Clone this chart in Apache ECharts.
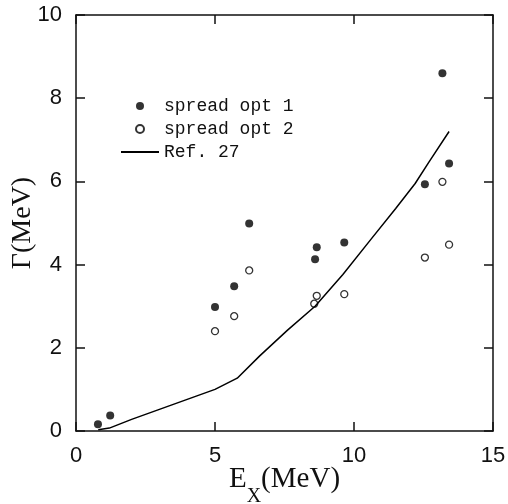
<!DOCTYPE html>
<html>
<head>
<meta charset="utf-8">
<script src="https://cdn.jsdelivr.net/npm/echarts@6/dist/echarts.min.js"></script>
<style>html,body{margin:0;padding:0;background:#fff;}#c{width:508px;height:504px;}</style>
</head>
<body>
<div id="c"></div>
<script>
const opt1X = [0.79, 1.23, 5.0, 5.69, 6.23, 8.6, 8.66, 9.65, 12.55, 13.18, 13.42];
const opt1Y = [0.16, 0.37, 2.98, 3.48, 4.99, 4.13, 4.42, 4.53, 5.93, 8.60, 6.43];
const opt2X = [5.0, 5.69, 6.23, 8.57, 8.66, 9.65, 12.55, 13.18, 13.42];
const opt2Y = [2.40, 2.76, 3.86, 3.06, 3.25, 3.29, 4.17, 5.99, 4.48];
const refX = [0.8, 1.2, 2, 3, 4, 5, 5.8, 6.6, 7.6, 8.6, 9.6, 10.6, 11.5, 12.2, 12.7, 13.42];
const refY = [0.03, 0.07, 0.28, 0.52, 0.76, 1.0, 1.27, 1.8, 2.42, 3.0, 3.76, 4.6, 5.35, 5.95, 6.47, 7.2];
const names = ['spread opt 1', 'spread opt 2', 'Ref. 27'];

const zip = (xs, ys) => xs.map((x, i) => [x, ys[i]]);
const mkLine = () => ({ show: true, onZero: false, lineStyle: { color: '#111', width: 1.5 } });
const mkTick = () => ({ show: true, inside: false, length: -9, lineStyle: { color: '#111', width: 1.5 } });
const labelFont = () => ({ fontFamily: 'Liberation Sans', fontSize: 22, color: '#111', margin: 14 });

const chart = echarts.init(document.getElementById('c'), null, { renderer: 'canvas' });
chart.setOption({
  animation: false,
  backgroundColor: '#fff',
  grid: { left: 76, right: 15, top: 15, bottom: 73, containLabel: false, outerBoundsMode: 'none' },
  legend: {
    orient: 'vertical', left: 120, top: 97, padding: 0,
    itemWidth: 38, itemHeight: 8, itemGap: 5,
    textStyle: { fontFamily: 'Liberation Mono', fontSize: 18, color: '#111', lineHeight: 18 },
    data: [names[0], names[1], { name: names[2], itemStyle: { opacity: 0 } }]
  },
  xAxis: [{
    type: 'value', min: 0, max: 15, interval: 5,
    axisLine: mkLine(), axisTick: mkTick(), splitLine: { show: false },
    axisLabel: labelFont(),
    name: '{a|E}{b|X}{a|(MeV)}', nameLocation: 'middle', nameGap: 34, nameMoveOverlap: false,
    nameTextStyle: {
      rich: {
        a: { fontFamily: 'Liberation Serif', fontSize: 29, color: '#111', lineHeight: 32, verticalAlign: 'top' },
        b: { fontFamily: 'Liberation Serif', fontSize: 20, color: '#111', lineHeight: 42, verticalAlign: 'bottom' }
      }
    }
  }, {
    type: 'value', min: 0, max: 15, interval: 5, position: 'top',
    axisLine: mkLine(), axisTick: mkTick(), axisLabel: { show: false }, splitLine: { show: false }
  }],
  yAxis: [{
    type: 'value', min: 0, max: 10, interval: 2,
    axisLine: mkLine(), axisTick: mkTick(), splitLine: { show: false },
    axisLabel: labelFont(),
    name: 'Γ(MeV)', nameLocation: 'middle', nameGap: 39, nameRotate: 90, nameMoveOverlap: false,
    nameTextStyle: { fontFamily: 'Liberation Serif', fontSize: 28, color: '#111' }
  }, {
    type: 'value', min: 0, max: 10, interval: 2, position: 'right',
    axisLine: mkLine(), axisTick: mkTick(), axisLabel: { show: false }, splitLine: { show: false }
  }],
  series: [{
    name: names[0], type: 'scatter', symbol: 'circle', symbolSize: 8,
    itemStyle: { color: '#000' },
    data: zip(opt1X, opt1Y)
  }, {
    name: names[1], type: 'scatter', symbol: 'circle', symbolSize: 7,
    itemStyle: { color: '#fff', borderColor: '#000', borderWidth: 1.3 },
    data: zip(opt2X, opt2Y)
  }, {
    name: names[2], type: 'line', symbol: 'none', smooth: false,
    itemStyle: { color: '#000' },
    lineStyle: { color: '#000', width: 1.5 },
    data: zip(refX, refY)
  }]
});
</script>
</body>
</html>
